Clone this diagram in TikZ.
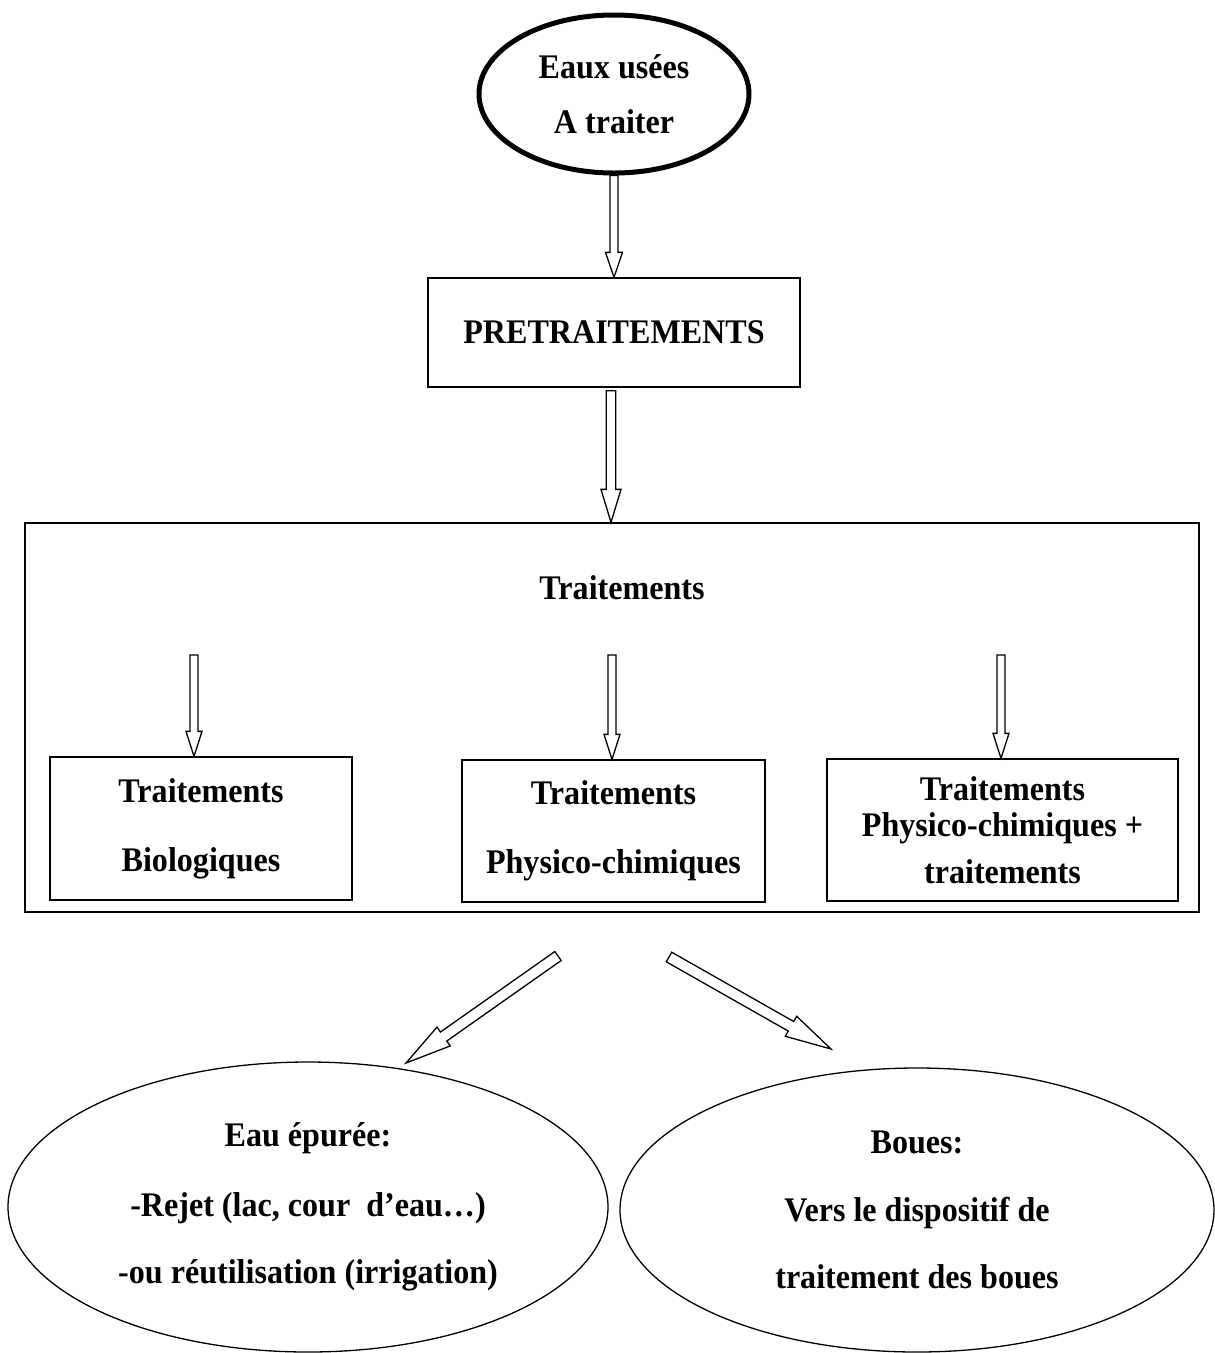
\documentclass[tikz,border=0pt]{standalone}
\usepackage{fontspec}
\setmainfont[FakeStretch=0.93]{Liberation Serif}
\usetikzlibrary{shapes.geometric,calc}
\tikzset{
  lbl/.style={font=\fontsize{34.5}{37}\selectfont\bfseries},
  boxnode/.style={draw, rectangle, line width=1.3pt, inner sep=0pt, align=center, lbl},
  ellnode/.style={draw, ellipse, line width=1.3pt, inner sep=0pt, align=center, lbl},
  arrowline/.style={draw, line width=1.3pt, fill=white, line join=miter},
}
% hollow block arrow: from, to, shaft half width, head half width, head length
\newcommand{\blockarrow}[5]{%
  \path ($(#2)!#5!(#1)$) coordinate (ba-h);
  \draw[arrowline] ($(#1)!#3!90:(#2)$) -- ($(ba-h)!#3!90:(#2)$) -- ($(ba-h)!#4!90:(#2)$)
    -- (#2) -- ($(ba-h)!#4!-90:(#2)$) -- ($(ba-h)!#3!-90:(#2)$) -- ($(#1)!#3!-90:(#2)$) -- cycle;}
\begin{document}
\begin{tikzpicture}[x=1pt,y=1pt]
\useasboundingbox (0,0) rectangle (1215,-1353);

% nodes
\node[ellnode, line width=5pt, minimum width=270pt, minimum height=158pt] (src) at (614,-94)
  {Eaux usées\\[18pt]A traiter};
\node[boxnode, minimum width=372pt, minimum height=109pt] (pre) at (614,-332.5) {PRETRAITEMENTS};
\node[boxnode, minimum width=1174pt, minimum height=389pt] (trt) at (612,-717.5) {};
\node[lbl] (trttitle) at (622,-588) {Traitements};
\node[boxnode, minimum width=302pt, minimum height=143pt] (b1) at (201,-828.5)
  {Traitements\\[32pt]Biologiques};
\node[boxnode, minimum width=303pt, minimum height=142pt] (b2) at (613.5,-831)
  {Traitements\\[32pt]Physico-chimiques};
\node[boxnode, minimum width=351pt, minimum height=142pt] (b3) at (1002.5,-830)
  {Traitements\\[-1pt]Physico-chimiques +\\[10pt]traitements};
\node[ellnode, minimum width=600pt, minimum height=290pt] (eau) at (308,-1207)
  {Eau épurée:\\[33pt]-Rejet (lac, cour\ \ d’eau…)\\[30pt]-ou réutilisation (irrigation)};
\node[ellnode, minimum width=594pt, minimum height=284pt] (boues) at (917,-1210)
  {Boues:\\[31pt]Vers le dispositif de\\[30pt]traitement des boues};

% arrow end points
\coordinate (a2s) at ($(pre.south)+(-3,-3)$);
\coordinate (a2e) at (a2s |- trt.north);
\coordinate (t1) at (194,-655);
\coordinate (h1) at (t1 |- b1.north);
\coordinate (t2) at (612,-655);
\coordinate (h2) at (t2 |- b2.north);
\coordinate (t3) at (1001,-655);
\coordinate (h3) at (t3 |- b3.north);
\coordinate (dl1) at (558,-956);
\coordinate (dl2) at (406,-1063);
\coordinate (dr1) at (669,-957);
\coordinate (dr2) at (831,-1049);

% connectors
\blockarrow{src.south}{pre.north}{4pt}{8.5pt}{25pt}
\blockarrow{a2s}{a2e}{4.7pt}{10pt}{33pt}
\blockarrow{t1}{h1}{4pt}{8pt}{25pt}
\blockarrow{t2}{h2}{4pt}{8pt}{25pt}
\blockarrow{t3}{h3}{4pt}{8pt}{25pt}
\blockarrow{dl1}{dl2}{5.5pt}{11.5pt}{46pt}
\blockarrow{dr1}{dr2}{5.5pt}{11.5pt}{46pt}
\end{tikzpicture}
\end{document}
